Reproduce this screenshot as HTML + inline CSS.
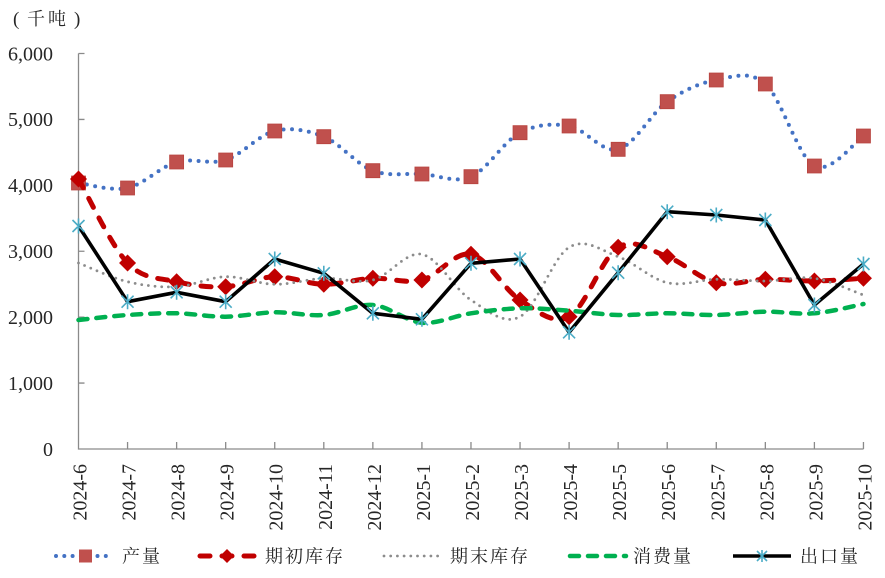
<!DOCTYPE html>
<html>
<head>
<meta charset="utf-8">
<style>
html,body{margin:0;padding:0;background:#fff;}
svg{display:block;}
.ax{font-family:"Liberation Serif","Noto Serif CJK SC",serif;font-size:20px;fill:#262626;}
.lg{font-family:"Liberation Serif","Noto Serif CJK SC","Noto Sans CJK SC",serif;font-size:18px;fill:#262626;letter-spacing:2px;}
</style>
</head>
<body>
<svg width="885" height="578" viewBox="0 0 885 578" xmlns="http://www.w3.org/2000/svg">
<rect width="885" height="578" fill="#fff"/>

<!-- unit label -->
<text class="ax" x="13" y="25" style="font-size:19px">(</text>
<text class="lg" x="27" y="25" style="letter-spacing:3px">千吨</text>
<text class="ax" x="74" y="25" style="font-size:19px">)</text>

<!-- axes -->
<g stroke="#8a8a8a" stroke-width="1.3" fill="none">
<path d="M78.5,53.5V449H863.5"/>
<path d="M78.5,53.5h6M78.5,119.42h6M78.5,185.33h6M78.5,251.25h6M78.5,317.17h6M78.5,383.08h6"/>
<path d="M127.56,449v-7M176.62,449v-7M225.68,449v-7M274.74,449v-7M323.8,449v-7M372.86,449v-7M421.92,449v-7M470.98,449v-7M520.04,449v-7M569.1,449v-7M618.16,449v-7M667.22,449v-7M716.28,449v-7M765.34,449v-7M814.4,449v-7M863.46,449v-7"/>
</g>

<!-- y labels -->
<g class="ax" text-anchor="end">
<text x="53" y="60.3">6,000</text>
<text x="53" y="126.2">5,000</text>
<text x="53" y="192.1">4,000</text>
<text x="53" y="258">3,000</text>
<text x="53" y="324">2,000</text>
<text x="53" y="389.9">1,000</text>
<text x="53" y="455.8">0</text>
</g>

<!-- x labels -->
<g class="ax" text-anchor="end">
<text transform="translate(86.5,464) rotate(-90)">2024-6</text>
<text transform="translate(135.56,464) rotate(-90)">2024-7</text>
<text transform="translate(184.62,464) rotate(-90)">2024-8</text>
<text transform="translate(233.68,464) rotate(-90)">2024-9</text>
<text transform="translate(282.74,464) rotate(-90)">2024-10</text>
<text transform="translate(331.8,464) rotate(-90)">2024-11</text>
<text transform="translate(380.86,464) rotate(-90)">2024-12</text>
<text transform="translate(429.92,464) rotate(-90)">2025-1</text>
<text transform="translate(478.98,464) rotate(-90)">2025-2</text>
<text transform="translate(528.04,464) rotate(-90)">2025-3</text>
<text transform="translate(577.1,464) rotate(-90)">2025-4</text>
<text transform="translate(626.16,464) rotate(-90)">2025-5</text>
<text transform="translate(675.22,464) rotate(-90)">2025-6</text>
<text transform="translate(724.28,464) rotate(-90)">2025-7</text>
<text transform="translate(773.34,464) rotate(-90)">2025-8</text>
<text transform="translate(822.4,464) rotate(-90)">2025-9</text>
<text transform="translate(871.46,464) rotate(-90)">2025-10</text>
</g>

<!-- 产量 -->
<path fill="none" stroke="#4472C4" stroke-width="4" stroke-linecap="round" stroke-dasharray="0 8.5"
d="M78.5,183 C86.68,183.83 111.21,191.5 127.56,188
S160.27,166.67 176.62,162
S209.33,165.17 225.68,160
S258.39,134.88 274.74,131
S307.45,130.08 323.8,136.7
S356.51,164.48 372.86,170.7
S405.57,173 421.92,174
S454.63,183.58 470.98,176.7
S503.69,141.15 520.04,132.7
S552.75,123.23 569.1,126
S601.81,153.35 618.16,149.3
S650.87,113.25 667.22,101.7
S699.93,82.95 716.28,80
S748.99,69.67 765.34,84
S798.05,157.33 814.4,166
S855.28,141 863.46,136"/>
<path fill="#C0504D" stroke="#B8433F" stroke-width="0.8"
d="M71.5,176h14v14h-14zM120.56,181h14v14h-14zM169.62,155h14v14h-14zM218.68,153h14v14h-14zM267.74,124h14v14h-14zM316.8,129.7h14v14h-14zM365.86,163.7h14v14h-14zM414.92,167h14v14h-14zM463.98,169.7h14v14h-14zM513.04,125.7h14v14h-14zM562.1,119h14v14h-14zM611.16,142.3h14v14h-14zM660.22,94.7h14v14h-14zM709.28,73h14v14h-14zM758.34,77h14v14h-14zM807.4,159h14v14h-14zM856.46,129h14v14h-14z"/>

<!-- 期初库存 -->
<path fill="none" stroke="#C00000" stroke-width="5" stroke-linecap="round" stroke-dasharray="10 12"
d="M78.5,179 C86.68,193 111.21,245.88 127.56,263
S160.27,277.75 176.62,281.7
S209.33,287.53 225.68,286.7
S258.39,277.1 274.74,276.7
S307.45,284.03 323.8,284.3
S356.51,279.02 372.86,278.3
S405.57,284 421.92,280
S454.63,250.97 470.98,254.3
S503.69,289.6 520.04,300
S552.75,325.48 569.1,316.7
S601.81,257.3 618.16,247.3
S650.87,250.8 667.22,256.7
S699.93,278.93 716.28,282.7
S748.99,279.58 765.34,279.3
S798.05,281.17 814.4,281
S855.28,278.75 863.46,278.3"/>
<path fill="#C00000"
d="M78.5,170.5l8.5,8.5l-8.5,8.5l-8.5,-8.5z
M127.56,254.5l8.5,8.5l-8.5,8.5l-8.5,-8.5z
M176.62,273.2l8.5,8.5l-8.5,8.5l-8.5,-8.5z
M225.68,278.2l8.5,8.5l-8.5,8.5l-8.5,-8.5z
M274.74,268.2l8.5,8.5l-8.5,8.5l-8.5,-8.5z
M323.8,275.8l8.5,8.5l-8.5,8.5l-8.5,-8.5z
M372.86,269.8l8.5,8.5l-8.5,8.5l-8.5,-8.5z
M421.92,271.5l8.5,8.5l-8.5,8.5l-8.5,-8.5z
M470.98,245.8l8.5,8.5l-8.5,8.5l-8.5,-8.5z
M520.04,291.5l8.5,8.5l-8.5,8.5l-8.5,-8.5z
M569.1,308.2l8.5,8.5l-8.5,8.5l-8.5,-8.5z
M618.16,238.8l8.5,8.5l-8.5,8.5l-8.5,-8.5z
M667.22,248.2l8.5,8.5l-8.5,8.5l-8.5,-8.5z
M716.28,274.2l8.5,8.5l-8.5,8.5l-8.5,-8.5z
M765.34,270.8l8.5,8.5l-8.5,8.5l-8.5,-8.5z
M814.4,272.5l8.5,8.5l-8.5,8.5l-8.5,-8.5z
M863.46,269.8l8.5,8.5l-8.5,8.5l-8.5,-8.5z"/>

<!-- 期末库存 -->
<path fill="none" stroke="#8c8c8c" stroke-width="2.8" stroke-linecap="round" stroke-dasharray="0 6.7"
d="M78.5,263 C86.68,266.12 111.21,277.75 127.56,281.7
S160.27,287.53 176.62,286.7
S209.33,277.1 225.68,276.7
S258.39,284.03 274.74,284.3
S307.45,279.02 323.8,278.3
S356.51,284 372.86,280
S405.57,250.97 421.92,254.3
S454.63,289.6 470.98,300
S503.69,325.48 520.04,316.7
S552.75,257.3 569.1,247.3
S601.81,250.8 618.16,256.7
S650.87,278.93 667.22,282.7
S699.93,279.58 716.28,279.3
S748.99,281.17 765.34,281
S798.05,275.97 814.4,278.3
S855.28,292.22 863.46,295"/>

<!-- 消费量 -->
<path fill="none" stroke="#00B050" stroke-width="4.5" stroke-linecap="round" stroke-dasharray="9 9"
d="M78.5,320 C86.68,319.17 111.21,316.12 127.56,315
S160.27,313.02 176.62,313.3
S209.33,316.87 225.68,316.7
S258.39,312.58 274.74,312.3
S307.45,316.22 323.8,315
S356.51,303.72 372.86,305
S405.57,321.32 421.92,322.7
S454.63,315.7 470.98,313.3
S503.69,308.73 520.04,308.3
S552.75,309.58 569.1,310.7
S601.81,314.57 618.16,315
S650.87,313.3 667.22,313.3
S699.93,315.27 716.28,315
S748.99,311.98 765.34,311.7
S798.05,314.58 814.4,313.3
S855.28,305.55 863.46,304"/>

<!-- 出口量 -->
<polyline fill="none" stroke="#000" stroke-width="3.6" stroke-linejoin="round"
points="78.5,226 127.56,301.7 176.62,292.3 225.68,301.7 274.74,259 323.8,273.3 372.86,313.3 421.92,319.3 470.98,263.3 520.04,259 569.1,332.3 618.16,272.7 667.22,211.7 716.28,215 765.34,220 814.4,305 863.46,264"/>
<path fill="none" stroke="#4BACC6" stroke-width="1.6"
d="M72.5,220l12,12M84.5,220l-12,12M78.5,218.5v15
M121.56,295.7l12,12M133.56,295.7l-12,12M127.56,294.2v15
M170.62,286.3l12,12M182.62,286.3l-12,12M176.62,284.8v15
M219.68,295.7l12,12M231.68,295.7l-12,12M225.68,294.2v15
M268.74,253l12,12M280.74,253l-12,12M274.74,251.5v15
M317.8,267.3l12,12M329.8,267.3l-12,12M323.8,265.8v15
M366.86,307.3l12,12M378.86,307.3l-12,12M372.86,305.8v15
M415.92,313.3l12,12M427.92,313.3l-12,12M421.92,311.8v15
M464.98,257.3l12,12M476.98,257.3l-12,12M470.98,255.8v15
M514.04,253l12,12M526.04,253l-12,12M520.04,251.5v15
M563.1,326.3l12,12M575.1,326.3l-12,12M569.1,324.8v15
M612.16,266.7l12,12M624.16,266.7l-12,12M618.16,265.2v15
M661.22,205.7l12,12M673.22,205.7l-12,12M667.22,204.2v15
M710.28,209l12,12M722.28,209l-12,12M716.28,207.5v15
M759.34,214l12,12M771.34,214l-12,12M765.34,212.5v15
M808.4,299l12,12M820.4,299l-12,12M814.4,297.5v15
M857.46,258l12,12M869.46,258l-12,12M863.46,256.5v15"/>

<!-- legend -->
<path d="M56,556H113" fill="none" stroke="#4472C4" stroke-width="4" stroke-linecap="round" stroke-dasharray="0 8.3"/>
<rect x="79" y="549.5" width="13" height="13" fill="#C0504D"/>
<text class="lg" x="122" y="562.5">产量</text>

<path d="M200,556H256" fill="none" stroke="#C00000" stroke-width="5" stroke-linecap="round" stroke-dasharray="10 12"/>
<path d="M227,549l7,7l-7,7l-7,-7z" fill="#C00000"/>
<text class="lg" x="265" y="562.5">期初库存</text>

<path d="M384,556H442" fill="none" stroke="#8c8c8c" stroke-width="2.8" stroke-linecap="round" stroke-dasharray="0 6.7"/>
<text class="lg" x="450" y="562.5">期末库存</text>

<path d="M570,556H626" fill="none" stroke="#00B050" stroke-width="4.5" stroke-linecap="round" stroke-dasharray="9 9"/>
<text class="lg" x="633" y="562.5">消费量</text>

<path d="M733,556H791" fill="none" stroke="#000" stroke-width="3.6"/>
<path d="M757,551l10,10M767,551l-10,10M762,550v12" fill="none" stroke="#4BACC6" stroke-width="1.6"/>
<text class="lg" x="800" y="562.5">出口量</text>
</svg>
</body>
</html>
